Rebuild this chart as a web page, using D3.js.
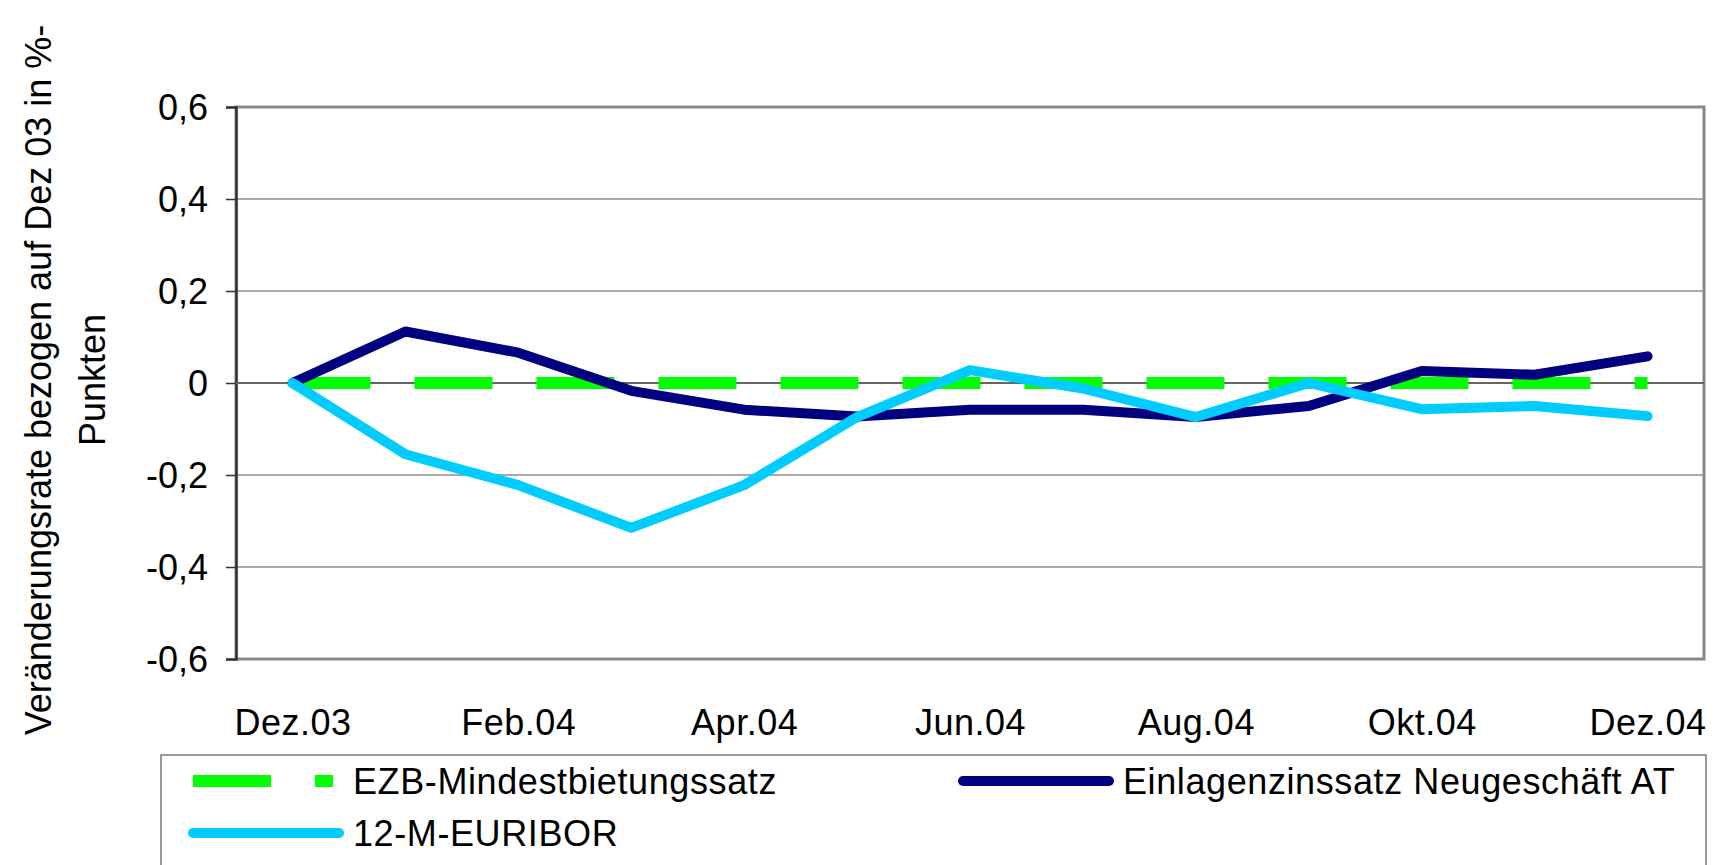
<!DOCTYPE html>
<html>
<head>
<meta charset="utf-8">
<script src="https://cdn.jsdelivr.net/npm/d3@7"></script>
<style>
  html, body { margin: 0; padding: 0; background: #fff; }
  svg text { font-family: "Liberation Sans", Arial, sans-serif; fill: #000; }
</style>
</head>
<body>
<div id="container"></div>
<script>
// change vs. Dez 03 in %-points, monthly Dez.03 - Dez.04

const months = ["Dez.03", "Jan.04", "Feb.04", "Mär.04", "Apr.04", "Mai.04", "Jun.04",
		"Jul.04", "Aug.04", "Sep.04", "Okt.04", "Nov.04", "Dez.04"];

const tickMonths = ["Dez.03", "Feb.04", "Apr.04", "Jun.04", "Aug.04", "Okt.04", "Dez.04"];

const ezb = [0, 0, 0, 0, 0, 0, 0, 0, 0, 0, 0, 0, 0];

const einlagen = [0, 0.112, 0.066, -0.017, -0.058, -0.073, -0.058, -0.058, -0.074, -0.05, 0.026, 0.018, 0.058];

const euribor = [0, -0.155, -0.222, -0.315, -0.222, -0.074, 0.028, -0.012, -0.074, 0, -0.057, -0.05, -0.072];

const yTicks = [0.6, 0.4, 0.2, 0, -0.2, -0.4, -0.6];

const series = [
    { name: "EZB-Mindestbietungssatz", values: ezb, color: "#00ff00", dash: "78 44", width: 12, cap: "butt" },
    { name: "Einlagenzinssatz Neugeschäft AT", values: einlagen, color: "#000080", dash: null, width: 10, cap: "round" },
    { name: "12-M-EURIBOR", values: euribor, color: "#00ccff", dash: null, width: 10, cap: "round" }
];

const width = 1715,
      height = 865;

const plot = { left: 236, right: 1704, top: 107, bottom: 659 };

const svg = d3.select("#container").append("svg")
      .attr("width", width)
      .attr("height", height);

const x = d3.scalePoint()
      .domain(months)
      .range([plot.left, plot.right])
      .padding(0.5);

const y = d3.scaleLinear()
      .domain([-0.6, 0.6])
      .range([plot.bottom, plot.top]);

const fmt = function(v){
    return v === 0 ? "0" : d3.format(".1f")(v).replace(".", ",").replace("−", "-");
};

// gridlines
svg.append("g")
    .selectAll("line")
    .data(yTicks.filter(v => v !== 0.6 && v !== -0.6 && v !== 0))
    .enter()
    .append("line")
    .attr("x1", plot.left)
    .attr("x2", plot.right)
    .attr("y1", d => y(d))
    .attr("y2", d => y(d))
    .attr("stroke", "#8c8c8c")
    .attr("stroke-width", 1.3);

// plot frame (top/right/bottom gray)
svg.append("rect")
    .attr("x", plot.left)
    .attr("y", plot.top)
    .attr("width", plot.right - plot.left)
    .attr("height", plot.bottom - plot.top)
    .attr("fill", "none")
    .attr("stroke", "#888")
    .attr("stroke-width", 3);

// y axis
const yAxis = d3.axisLeft(y)
      .tickValues(yTicks)
      .tickSize(10)
      .tickPadding(18)
      .tickFormat(fmt);

const yg = svg.append("g")
      .attr("transform", "translate(" + plot.left + ",0)")
      .call(yAxis);

yg.select(".domain")
    .attr("stroke", "#333")
    .attr("stroke-width", 2.5);
yg.selectAll(".tick line")
    .attr("stroke", "#333")
    .attr("stroke-width", 1.5);
yg.selectAll(".tick text")
    .attr("font-size", 36)
    .attr("dy", "0.36em")
    .attr("font-family", "\"Liberation Sans\", Arial, sans-serif");

// zero line (category axis)
svg.append("line")
    .attr("x1", plot.left)
    .attr("x2", plot.right)
    .attr("y1", y(0))
    .attr("y2", y(0))
    .attr("stroke", "#666")
    .attr("stroke-width", 2);

// x labels
const xAxis = d3.axisBottom(x)
      .tickValues(tickMonths)
      .tickSize(0)
      .tickPadding(0);

const xg = svg.append("g")
      .attr("transform", "translate(0," + plot.bottom + ")")
      .call(xAxis);

xg.select(".domain").remove();
xg.selectAll(".tick text")
    .attr("font-size", 36)
    .attr("y", 76)
    .attr("dy", 0)
    .attr("letter-spacing", 0.5)
    .attr("font-family", "\"Liberation Sans\", Arial, sans-serif");

// lines
const line = d3.line()
      .x((d, i) => x(months[i]))
      .y(d => y(d));

svg.append("g")
    .selectAll("path")
    .data(series)
    .enter()
    .append("path")
    .attr("d", d => line(d.values))
    .attr("fill", "none")
    .attr("stroke", d => d.color)
    .attr("stroke-width", d => d.width)
    .attr("stroke-dasharray", d => d.dash)
    .attr("stroke-linecap", d => d.cap)
    .attr("stroke-linejoin", "round");

// y axis title
const title = svg.append("text")
      .attr("transform", "translate(38," + 380 + ") rotate(-90)")
      .attr("text-anchor", "middle")
      .attr("font-size", 36);

title.append("tspan")
    .attr("x", 0)
    .attr("dy", "0.35em")
    .text("Veränderungsrate bezogen auf Dez 03 in %-");

title.append("tspan")
    .attr("x", 0)
    .attr("dy", "1.5em")
    .text("Punkten");

// legend
const legend = svg.append("g");

legend.append("rect")
    .attr("x", 161)
    .attr("y", 755)
    .attr("width", 1545)
    .attr("height", 130)
    .attr("fill", "#fff")
    .attr("stroke", "#777")
    .attr("stroke-width", 1.5);

const legendPos = [
    { sx: 193, ty: 781 },
    { sx: 963, ty: 781 },
    { sx: 193, ty: 833 }
];

const items = legend.selectAll("g.item")
      .data(series)
      .enter()
      .append("g")
      .attr("class", "item")
      .attr("transform", (d, i) => "translate(" + legendPos[i].sx + "," + legendPos[i].ty + ")");

items.append("line")
    .attr("x1", 0)
    .attr("x2", d => d.dash ? 140 : 146)
    .attr("y1", 0)
    .attr("y2", 0)
    .attr("stroke", d => d.color)
    .attr("stroke-width", d => d.width)
    .attr("stroke-dasharray", d => d.dash)
    .attr("stroke-linecap", d => d.cap);

items.append("text")
    .attr("x", 160)
    .attr("y", 0)
    .attr("dy", "0.36em")
    .attr("font-size", 36)
    .attr("letter-spacing", 0.6)
    .text(d => d.name);
</script>
</body>
</html>
